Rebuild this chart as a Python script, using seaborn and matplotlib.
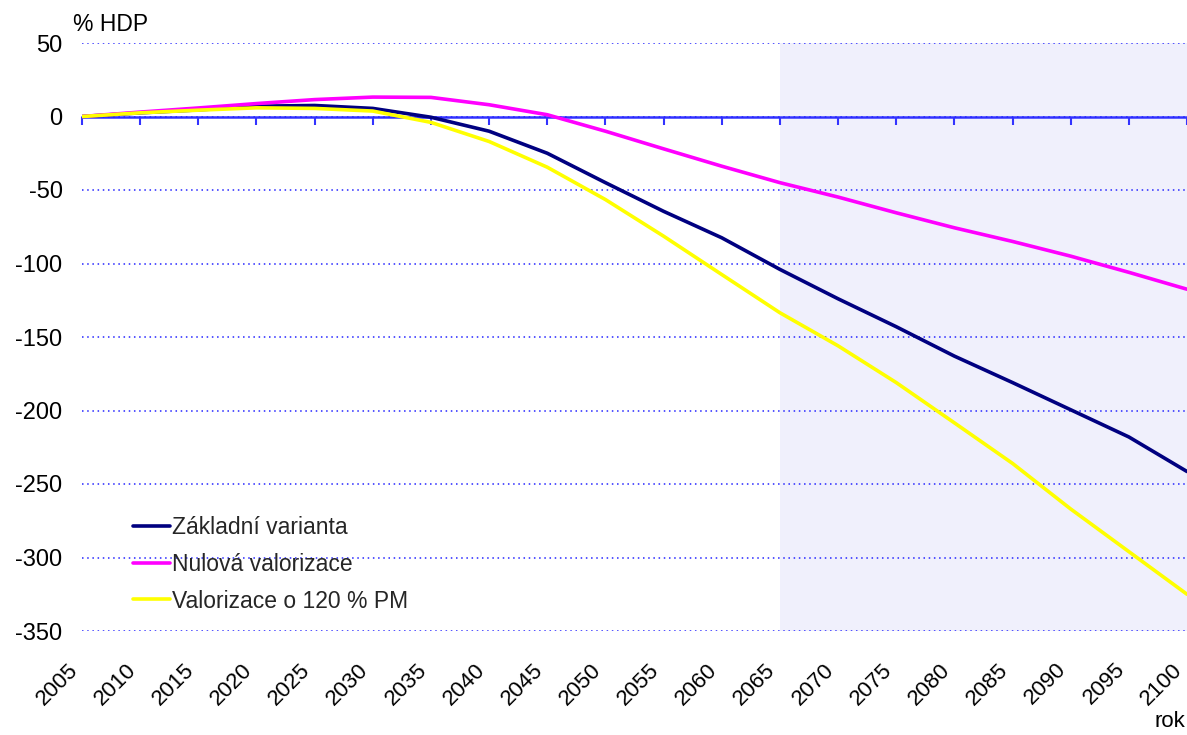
import matplotlib
matplotlib.use("Agg")
import matplotlib.pyplot as plt
import numpy as np
import pandas as pd
import seaborn as sns

# Roky a hodnoty salda (% HDP) pro tři varianty valorizace
roky = [2005, 2010, 2015, 2020, 2025, 2030, 2035, 2040, 2045, 2050,
        2055, 2060, 2065, 2070, 2075, 2080, 2085, 2090, 2095, 2100]

zakladni = [0, 2.5, 4.5, 7.0, 7.5, 5.5, -0.5, -10, -25, -45,
            -64.5, -82.5, -104, -124, -143, -163, -181, -199.5, -218, -241.5]

nulova = [0, 3.0, 5.8, 8.8, 11.5, 13.2, 13.0, 8.0, 1.2, -10,
          -22, -33.8, -45, -54.8, -65.5, -75.7, -85, -95, -106, -117.5]

valorizace_120 = [0, 2.5, 4.3, 5.9, 5.5, 3.7, -4, -17, -34.5, -56.5,
                  -81.4, -107.5, -133.5, -156, -181, -208.4, -236, -267, -296, -325]

nazvy = ["Základní varianta", "Nulová valorizace", "Valorizace o 120 % PM"]
barvy = ["#000080", "#FF00FF", "#FFFF00"]

y_ticks = [50, 0, -50, -100, -150, -200, -250, -300, -350]
x_ticks = list(range(2005, 2101, 5))

df = pd.concat([
    pd.DataFrame({"rok": roky, "hodnota": vals, "varianta": nazev})
    for nazev, vals in zip(nazvy, [zakladni, nulova, valorizace_120])
])

sns.set_theme(style="white")
plt.rcParams["font.family"] = ["Liberation Sans", "DejaVu Sans"]

fig = plt.figure(figsize=(11.87, 7.35), dpi=100)
ax = fig.add_axes([82 / 1187, 1 - 631 / 735, 1 - 82 / 1187, (631 - 43) / 735])

# výhledové období
ax.axvspan(2065, 2100, color="#F0F0FC", zorder=0, lw=0)

sns.lineplot(data=df, x="rok", y="hodnota", hue="varianta",
             palette=dict(zip(nazvy, barvy)), hue_order=nazvy,
             linewidth=2.6, ax=ax, zorder=3)

ax.set_xlim(2005, 2100)
ax.set_ylim(-350, 50)
ax.set_yticks(y_ticks)
ax.set_yticklabels([str(v) for v in y_ticks])
ax.set_xticks(x_ticks)
ax.set_xticklabels([str(v) for v in x_ticks], rotation=45,
                   ha="right", va="bottom", rotation_mode="anchor")
ax.set_xlabel("")
ax.set_ylabel("")

for s in ax.spines.values():
    s.set_visible(False)

ax.tick_params(axis="y", length=0, pad=14, labelsize=17, labelcolor="black")
ax.tick_params(axis="x", length=0, pad=31, labelsize=16, labelcolor="black")

ax.yaxis.grid(True, color="#2525FF", linestyle=(0, (1, 2.4)), linewidth=1.1, zorder=0.5)
ax.xaxis.grid(False)

# nulová osa s ryskami
sec = ax.secondary_xaxis(0, transform=ax.transData)
sec.set_xticks(x_ticks)
sec.tick_params(axis="x", direction="out", length=6, width=1.5,
                color="#3333FF", labelbottom=False, labeltop=False)
for s in sec.spines.values():
    s.set_color("#3333FF")
    s.set_linewidth(1.8)

leg = ax.legend(loc="upper left", bbox_to_anchor=((133 - 82) / 1105, (631 - 516) / 588),
                frameon=False, fontsize=16.5, handlelength=1.6, handletextpad=0.1,
                labelspacing=0.6, borderpad=0, borderaxespad=0)
for line in leg.get_lines():
    line.set_linewidth(2.6)

fig.text(73 / 1187, 1 - 13 / 735, "% HDP", fontsize=16.5, ha="left", va="top", color="black")
fig.text(1154 / 1187, 0.004, "rok", fontsize=16, ha="left", va="bottom", color="black")

fig.savefig("out.png", dpi=100)
